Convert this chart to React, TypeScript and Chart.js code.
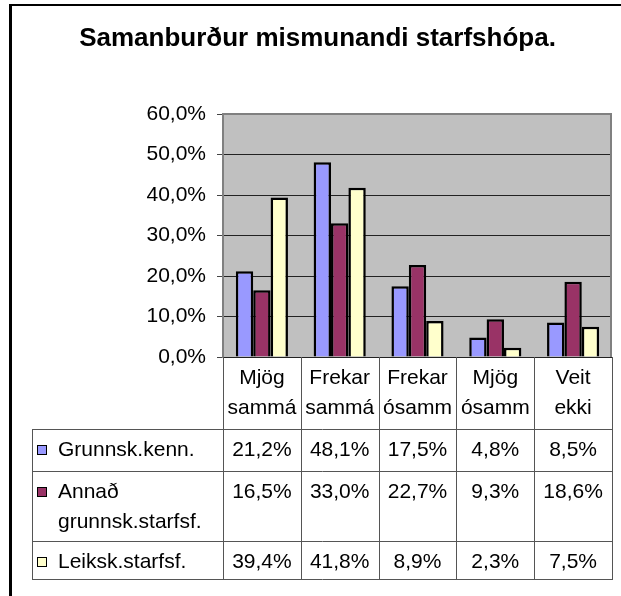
import React, { useEffect, useRef } from 'react';
import { Chart, registerables } from 'chart.js';

Chart.register(...registerables);

// ---- Data ----
const titleText = 'Samanburður mismunandi starfshópa.';
const categories = [
  ['Mjög', 'sammá'],
  ['Frekar', 'sammá'],
  ['Frekar', 'ósamm'],
  ['Mjög', 'ósamm'],
  ['Veit', 'ekki'],
];
const seriesNames = [['Grunnsk.kenn.'], ['Annað', 'grunnsk.starfsf.'], ['Leiksk.starfsf.']];
const grunnskKenn = [21.2, 48.1, 17.5, 4.8, 8.5];
const annadGrunnsk = [16.5, 33.0, 22.7, 9.3, 18.6];
const leikskStarfsf = [39.4, 41.8, 8.9, 2.3, 7.5];
const seriesColors = ['#9999FF', '#993366', '#FFFFCC'];
const yMin = 0;
const yMax = 60;
const yStep = 10;

const FONT = '"Liberation Sans", Arial, Helvetica, sans-serif';
const fmt = (v: number) => v.toFixed(1).replace('.', ',') + '%';

const excelPlugin = {
  id: 'excelLook',
  beforeDraw(chart: any) {
    const { ctx, chartArea: a } = chart;
    ctx.save();
    ctx.fillStyle = '#FFFFFF';
    ctx.fillRect(0, 0, chart.width, chart.height);
    ctx.fillStyle = '#C0C0C0';
    ctx.fillRect(a.left, a.top, a.right - a.left, a.bottom - a.top);
    ctx.restore();
  },
  beforeDatasetsDraw(chart: any) {
    const { ctx, chartArea: a } = chart;
    ctx.save();
    ctx.strokeStyle = '#808080';
    ctx.lineWidth = 2;
    ctx.beginPath();
    ctx.moveTo(a.left, a.top);
    ctx.lineTo(a.right - 1, a.top);
    ctx.lineTo(a.right - 1, a.bottom);
    ctx.stroke();
    ctx.restore();
  },
  afterDraw(chart: any) {
    const { ctx, chartArea: a } = chart;
    const xs = chart.scales.x;
    const datasets = chart.data.datasets;
    ctx.save();

    // outer frame (left and top edges visible)
    ctx.fillStyle = '#000';
    ctx.fillRect(9, 4, chart.width - 9, 2);
    ctx.fillRect(9, 4, 3, chart.height - 4);

    // title
    ctx.font = 'bold 26px ' + FONT;
    ctx.textAlign = 'center';
    ctx.textBaseline = 'alphabetic';
    ctx.fillStyle = '#000';
    ctx.fillText(titleText, 317.5, 46);

    // data table
    const n = categories.length;
    const half = (xs.getPixelForValue(1) - xs.getPixelForValue(0)) / 2;
    const centers = categories.map((_, i) => xs.getPixelForValue(i));
    const edges = centers.map((c) => c - half).concat([centers[n - 1] + half]);
    const headerTop = a.bottom;
    const headerH = 72;
    const rowHeights = [42, 70, 38];
    const rowTops: number[] = [];
    let y = headerTop + headerH;
    rowHeights.forEach((h) => {
      rowTops.push(y);
      y += h;
    });
    const tableBottom = y;
    const tableLeft = 32;
    const lineGap = 29.5;

    ctx.strokeStyle = '#555';
    ctx.lineWidth = 1;
    ctx.beginPath();
    edges.forEach((e) => {
      const x = Math.round(e) + 0.5;
      ctx.moveTo(x, headerTop);
      ctx.lineTo(x, tableBottom);
    });
    ctx.moveTo(tableLeft + 0.5, rowTops[0]);
    ctx.lineTo(tableLeft + 0.5, tableBottom);
    rowTops.concat([tableBottom]).forEach((t) => {
      const yy = Math.round(t) + 0.5;
      ctx.moveTo(tableLeft, yy);
      ctx.lineTo(Math.round(edges[n]) + 1, yy);
    });
    ctx.stroke();

    ctx.font = '21px ' + FONT;
    ctx.fillStyle = '#000';
    ctx.textAlign = 'center';
    // header (category names)
    categories.forEach((lines, i) => {
      lines.forEach((ln, k) => {
        ctx.fillText(ln, centers[i], headerTop + 27 + k * lineGap);
      });
    });
    // rows
    datasets.forEach((ds: any, r: number) => {
      const top = rowTops[r];
      const base = top + 27;
      // legend key
      ctx.fillStyle = ds.backgroundColor;
      ctx.fillRect(37, base - 10, 9, 9);
      ctx.strokeStyle = '#000';
      ctx.lineWidth = 1;
      ctx.strokeRect(37.5, base - 10.5, 9, 9);
      ctx.fillStyle = '#000';
      ctx.textAlign = 'left';
      seriesNames[r].forEach((ln, k) => {
        ctx.fillText(ln, 58, base + k * lineGap);
      });
      ctx.textAlign = 'center';
      ds.data.forEach((v: number, i: number) => {
        ctx.fillText(fmt(v), centers[i], base);
      });
    });
    ctx.restore();
  },
};

export default function App() {
  const ref = useRef<HTMLCanvasElement | null>(null);
  useEffect(() => {
    if (!ref.current) return;
    const seriesData = [grunnskKenn, annadGrunnsk, leikskStarfsf];
    const chart = new Chart(ref.current, {
      type: 'bar',
      data: {
        labels: categories.map((c) => c.join(' ')),
        datasets: seriesData.map((d, i) => ({
          label: seriesNames[i].join(' '),
          data: d,
          backgroundColor: seriesColors[i],
          borderColor: '#000000',
          borderWidth: 2.5,
          categoryPercentage: 0.67,
          barPercentage: 1.0,
        })),
      },
      options: {
        responsive: false,
        animation: false,
        devicePixelRatio: 1,
        layout: { padding: { left: 0, right: 9, top: 114, bottom: 239 } },
        plugins: {
          legend: { display: false },
          title: { display: false },
          tooltip: { enabled: false },
        },
        scales: {
          x: { display: false, offset: true },
          y: {
            min: yMin,
            max: yMax,
            ticks: {
              stepSize: yStep,
              callback: (v: any) => fmt(Number(v)),
              font: { family: FONT, size: 21 },
              color: '#000',
              padding: 11,
            },
            grid: {
              color: (c: any) => (c.tick && c.tick.value === yMax ? '#808080' : '#222'),
              tickColor: '#444',
              tickLength: 6,
              lineWidth: 1,
            },
            border: { display: true, color: '#808080', width: 2 },
            afterFit: (s: any) => {
              s.width = 223;
            },
          },
        },
      },
      plugins: [excelPlugin],
    } as any);
    return () => chart.destroy();
  }, []);
  return (
    <div style={{ position: 'absolute', left: 0, top: 0, width: 621, height: 596 }}>
      <canvas ref={ref} width={621} height={596} style={{ display: 'block', width: 621, height: 596 }} />
    </div>
  );
}
